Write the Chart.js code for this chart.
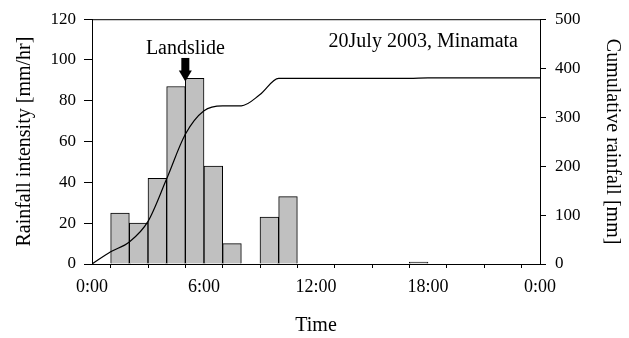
<!DOCTYPE html>
<html>
<head>
<meta charset="utf-8">
<script src="https://cdn.jsdelivr.net/npm/chart.js@4/dist/chart.umd.min.js"></script>
<style>
  body { margin: 0; background: #fff; }
</style>
</head>
<body>
<canvas id="rainChart" width="629" height="338"></canvas>
<script>
// Hourly rainfall, 20 July 2003 at Minamata
const hours = Array.from({ length: 24 }, (_, h) => h);
const intensity = [0, 25, 20, 42, 87, 91, 48, 10, 0, 23, 33, 0,
                   0, 0, 0, 0, 0, 1, 0, 0, 0, 0, 0, 0];
// cumulative rainfall at each full hour, 0:00 to 24:00
const cumulative = [0, 25, 45, 87, 174, 265, 313, 323, 323, 346, 379, 379, 379,
                    379, 379, 379, 379, 379, 380, 380, 380, 380, 380, 380, 380];
const landslideHour = 5;

const serif = 'Liberation Serif, Times New Roman, serif';

// frame round the plot, arrow and text labels
const decorations = {
  id: 'decorations',
  afterDatasetsDraw(chart) {
    const { ctx, chartArea: a, scales } = chart;
    ctx.save();
    ctx.strokeStyle = '#000';
    ctx.lineWidth = 1;
    ctx.strokeRect(a.left + 0.5, a.top + 0.5, a.right - a.left, a.bottom - a.top);

    const x = scales.x.getPixelForValue(landslideHour);
    const top = scales.y.getPixelForValue(101);
    const tip = scales.y.getPixelForValue(89.5);
    ctx.fillStyle = '#000';
    ctx.fillRect(x - 4, top, 8, tip - top - 9);
    ctx.beginPath();
    ctx.moveTo(x - 6.5, tip - 11);
    ctx.lineTo(x + 6.5, tip - 11);
    ctx.lineTo(x, tip);
    ctx.closePath();
    ctx.fill();

    ctx.font = '20px ' + serif;
    ctx.textAlign = 'center';
    ctx.textBaseline = 'alphabetic';
    ctx.fillText('Landslide', x, scales.y.getPixelForValue(103));

    ctx.textAlign = 'right';
    ctx.fillText('20July 2003, Minamata', a.right - 22, a.top + 28);
    ctx.restore();
  }
};

new Chart(document.getElementById('rainChart'), {
  data: {
    datasets: [
      {
        type: 'line',
        data: cumulative.map((v, h) => ({ x: h, y: v })),
        yAxisID: 'y2',
        borderColor: '#000',
        borderWidth: 1.2,
        pointRadius: 0,
        cubicInterpolationMode: 'monotone',
        order: 1
      },
      {
        type: 'bar',
        data: hours.map(h => ({ x: h + 0.5, y: intensity[h] })),
        yAxisID: 'y',
        backgroundColor: '#c0c0c0',
        borderColor: '#000',
        borderWidth: 1,
        barPercentage: 1,
        categoryPercentage: 1,
        order: 2
      }
    ]
  },
  options: {
    responsive: false,
    animation: false,
    layout: { padding: { top: 15, left: 0, right: 0, bottom: 0 } },
    plugins: {
      legend: { display: false },
      tooltip: { enabled: false }
    },
    scales: {
      x: {
        type: 'linear',
        min: 0,
        max: 24,
        offset: false,
        afterFit: s => { s.height = 74; },
        border: { color: '#000', width: 1 },
        grid: { drawOnChartArea: false, color: '#000', tickLength: 4 },
        ticks: {
          stepSize: 2,
          autoSkip: false,
          maxRotation: 0,
          padding: 8,
          color: '#000',
          font: { family: serif, size: 18 },
          callback: v => (v % 6 === 0 ? (v % 24) + ':00' : '')
        },
        title: {
          display: true,
          text: 'Time',
          color: '#000',
          font: { family: serif, size: 20 },
          padding: { top: 0, bottom: 0 }
        }
      },
      y: {
        position: 'left',
        min: 0,
        max: 120,
        afterFit: s => { s.width = 92; },
        border: { color: '#000', width: 1 },
        grid: { drawOnChartArea: false, color: '#000', tickLength: 8 },
        ticks: {
          stepSize: 20,
          padding: 8,
          color: '#000',
          font: { family: serif, size: 17 }
        },
        title: {
          display: true,
          text: 'Rainfall intensity [mm/hr]',
          color: '#000',
          font: { family: serif, size: 20 },
          padding: { top: 13, bottom: 0 }
        }
      },
      y2: {
        position: 'right',
        min: 0,
        max: 500,
        afterFit: s => { s.width = 89; },
        border: { color: '#000', width: 1 },
        grid: { drawOnChartArea: false, color: '#000', tickLength: 6 },
        ticks: {
          stepSize: 100,
          padding: 9,
          color: '#000',
          font: { family: serif, size: 17 }
        },
        title: {
          display: true,
          text: 'Cumulative rainfall [mm]',
          color: '#000',
          font: { family: serif, size: 20 },
          padding: { top: 5, bottom: 0 }
        }
      }
    }
  },
  plugins: [decorations]
});
</script>
</body>
</html>
